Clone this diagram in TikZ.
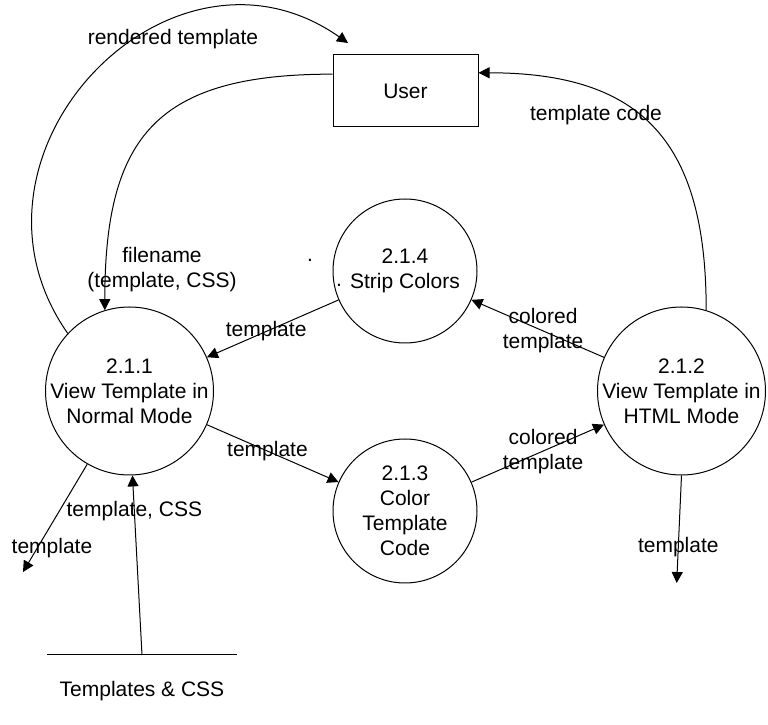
\documentclass[tikz,border=0pt]{standalone}
\usepackage{fontspec}
\setmainfont{Liberation Sans}
\usepackage{tikz}
\usetikzlibrary{arrows.meta}

\begin{document}
\begin{tikzpicture}[x=0.5pt, y=0.5pt, line width=0.5pt,
    every node/.style={font=\fontsize{10.5}{12.5}\selectfont},
    flow/.style={-{Triangle[length=5.5pt,width=5.5pt]}},
    bigproc/.style={circle, draw, minimum size=84pt, inner sep=-4pt, align=center},
    smallproc/.style={circle, draw, minimum size=72pt, inner sep=-4pt, align=center},
    lbl/.style={align=center, inner sep=0pt}]
    \useasboundingbox (0,0) rectangle (768,725);

    % External entity and processes
    \node[draw, minimum width=72.5pt, minimum height=36pt] (user) at (405.5,634) {User};
    \node[bigproc] (p211) at (129.5,334) {2.1.1\\View Template in\\Normal Mode};
    \node[bigproc] (p212) at (681.5,334) {2.1.2\\View Template in\\HTML Mode};
    \node[smallproc] (p213) at (405,214) {2.1.3\\Color\\Template\\Code};
    \node[smallproc] (p214) at (405,454) {2.1.4\\Strip Colors};

    % Data store
    \draw (47,70) -- (237,70);
    \coordinate (storein) at (142,70);
    \node (store) at (142,34) {Templates \& CSS};

    % Stray dots
    \node[anchor=base, inner sep=0pt] (dotA) at (310,463) {.};
    \node[anchor=base, inner sep=0pt] (dotB) at (339,438) {.};

    % Free ends
    \coordinate (rendend) at (348,682);
    \coordinate (out211) at (23,153);
    \coordinate (out212) at (676.7,142);

    % Flows to and from User
    \draw[flow] (p211.137) to[out=125, in=145, looseness=1.38] (rendend);
    \node (lrend) at (173,686) {rendered template};
    \draw[flow] (user.167) to[out=180, in=90, looseness=1.36] (p211.107);
    \node[lbl] (lfile) at (162,455) {filename\\(template, CSS)};
    \draw[flow] (p212.73) to[out=90, in=0, looseness=1.29] (user.14);
    \node (lcode) at (596,610) {template code};

    % Flows between processes
    \draw[flow] (p214) -- node[pos=0.55] (l1) {template} (p211);
    \draw[flow] (p211) -- node[pos=0.46] (l2) {template} (p213);
    \draw[flow] (p213) -- node[pos=0.54, lbl] (l3) {colored\\template} (p212);
    \draw[flow] (p212) -- node[pos=0.46, lbl] (l4) {colored\\template} (p214);

    % Store and outgoing flows
    \draw[flow] (storein) -- node[pos=0.8] (l5) {template, CSS} (p211.272);
    \draw[flow] (p211.240) -- (out211);
    \node (l6) at (52,177) {template};
    \draw[flow] (p212.south) -- node[pos=0.67] (l7) {template} (out212);
\end{tikzpicture}
\end{document}
